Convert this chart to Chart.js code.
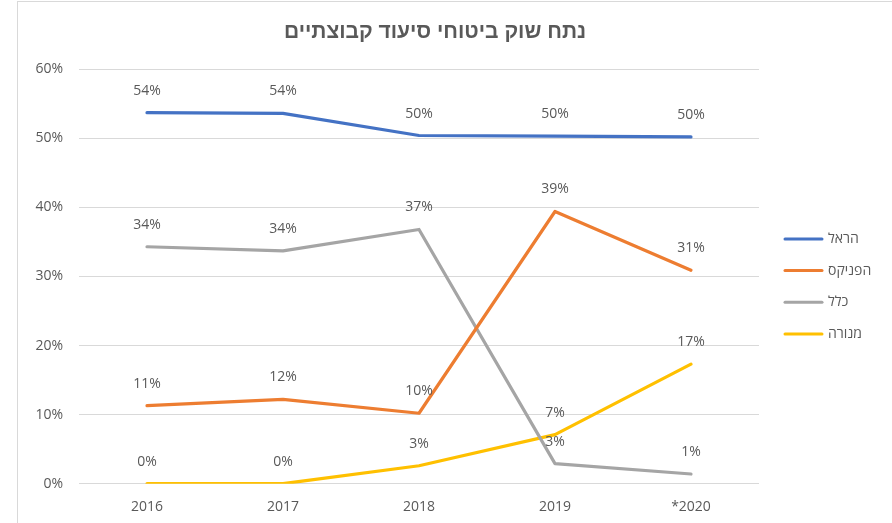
<!DOCTYPE html>
<html>
<head>
<meta charset="utf-8">
<script src="https://cdn.jsdelivr.net/npm/chart.js@4/dist/chart.umd.min.js"></script>
<style>
  html, body { margin: 0; padding: 0; background: #fff; }
  #wrap { position: relative; width: 892px; height: 523px; }
  #frame { position: absolute; left: 17px; top: 1px; right: -2px; bottom: -2px;
           border-left: 1.5px solid #D9D9D9; border-top: 1.5px solid #D9D9D9; pointer-events: none; }
</style>
</head>
<body>
<div id="wrap"><canvas id="chart"></canvas><div id="frame"></div></div>
<script>
// Chart data (percent)
const years = ['2016', '2017', '2018', '2019', '*2020'];
const harel = [53.7, 53.6, 50.4, 50.3, 50.2];
const phoenix = [11.3, 12.2, 10.2, 39.4, 30.9];
const klal = [34.3, 33.7, 36.8, 2.9, 1.4];
const menora = [0, 0, 2.6, 7.1, 17.3];
const seriesNames = ['הראל', 'הפניקס', 'כלל', 'מנורה'];
const seriesColors = ['#4472C4', '#ED7D31', '#A5A5A5', '#FFC000'];
const yTicks = [0, 10, 20, 30, 40, 50, 60];

const TEXT = '#595959';
const FONT = "'Open Sans', 'Liberation Sans', sans-serif";

// value labels above each point
const valueLabels = {
  id: 'valueLabels',
  afterDatasetsDraw(chart) {
    const ctx = chart.ctx;
    ctx.save();
    ctx.font = '14px ' + FONT;
    ctx.fillStyle = TEXT;
    ctx.textAlign = 'center';
    ctx.textBaseline = 'middle';
    chart.data.datasets.forEach((ds, i) => {
      const meta = chart.getDatasetMeta(i);
      meta.data.forEach((pt, j) => {
        ctx.fillText(Math.round(ds.data[j]) + '%', pt.x, pt.y - 22);
      });
    });
    ctx.restore();
  }
};

// legend beside the plot: line swatch, then name
const sideLegend = {
  id: 'sideLegend',
  afterDraw(chart) {
    const ctx = chart.ctx;
    const area = chart.chartArea;
    const x0 = area.right + 26;
    const mid = (area.top + area.bottom) / 2 + 10;
    const step = 31.7;
    ctx.save();
    ctx.font = '14px ' + FONT;
    ctx.textBaseline = 'middle';
    ctx.direction = 'rtl';
    ctx.textAlign = 'left';
    chart.data.datasets.forEach((ds, i) => {
      const y = mid + (i - 1.5) * step;
      ctx.strokeStyle = ds.borderColor;
      ctx.lineWidth = 3;
      ctx.lineCap = 'round';
      ctx.beginPath();
      ctx.moveTo(x0, y);
      ctx.lineTo(x0 + 37, y);
      ctx.stroke();
      ctx.fillStyle = TEXT;
      ctx.fillText(ds.label, x0 + 43, y);
    });
    ctx.restore();
  }
};

const allSeries = [harel, phoenix, klal, menora];

new Chart(document.getElementById('chart').getContext('2d'), {
  type: 'line',
  data: {
    labels: years,
    datasets: allSeries.map((vals, i) => ({
      label: seriesNames[i],
      data: vals,
      borderColor: seriesColors[i],
      backgroundColor: seriesColors[i],
      borderWidth: 3.2,
      borderCapStyle: 'round',
      borderJoinStyle: 'round',
      pointRadius: 0,
      tension: 0,
      fill: false,
      yAxisID: 'y'
    }))
  },
  options: {
    responsive: true,
    maintainAspectRatio: false,
    animation: false,
    layout: { padding: { left: 0, right: 22, top: 0, bottom: 0 } },
    plugins: {
      tooltip: { enabled: false },
      title: {
        display: true,
        text: 'נתח שוק ביטוחי סיעוד קבוצתיים',
        color: TEXT,
        font: { family: "'Liberation Sans', Arial, sans-serif", size: 21, weight: 'bold' },
        padding: { top: 20, bottom: 24 }
      },
      legend: { display: false }
    },
    scales: {
      x: {
        offset: true,
        afterFit(scale) { scale.height = 39.3; },
        grid: { display: false, drawTicks: false },
        border: { display: false },
        ticks: { color: TEXT, font: { family: FONT, size: 14 }, padding: 15 }
      },
      y: {
        min: 0,
        max: 60,
        afterFit(scale) { scale.width = 79; },
        afterBuildTicks(scale) { scale.ticks = yTicks.map(v => ({ value: v })); },
        grid: { color: '#D9D9D9', lineWidth: 1, drawTicks: false },
        border: { display: false },
        ticks: {
          color: TEXT,
          font: { family: FONT, size: 14 },
          padding: 16,
          callback: v => v + '%'
        }
      },
      // empty right-hand axis that keeps room for the legend
      side: {
        position: 'right',
        min: 0,
        max: 60,
        afterFit(scale) { scale.width = 111; },
        grid: { display: false, drawTicks: false },
        border: { display: false },
        ticks: { display: false }
      }
    }
  },
  plugins: [valueLabels, sideLegend]
});
</script>
</body>
</html>
